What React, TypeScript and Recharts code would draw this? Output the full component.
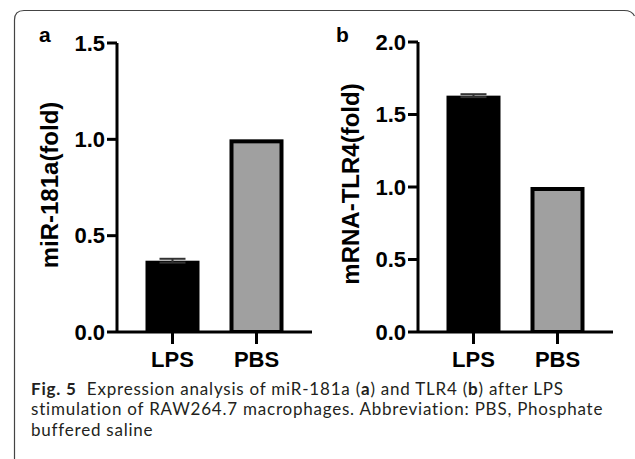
import React from 'react';
import { BarChart, Bar, XAxis, YAxis, ErrorBar } from 'recharts';

const categories = ['LPS', 'PBS'];
const miR181aValues = [0.37, 1.0];
const miR181aErrors: (number | null)[] = [0.01, null];
const tlr4Values = [1.63, 1.0];
const tlr4Errors: (number | null)[] = [0.01, null];
const barColors = ['#000000', '#a0a0a0'];
const ticksA = [0, 0.5, 1.0, 1.5];
const ticksB = [0, 0.5, 1.0, 1.5, 2.0];
const yTitleA = 'miR-181a(fold)';
const yTitleB = 'mRNA-TLR4(fold)';

const dataA = categories.map((c, i) => ({ cat: c, v: miR181aValues[i], err: miR181aErrors[i] }));
const dataB = categories.map((c, i) => ({ cat: c, v: tlr4Values[i], err: tlr4Errors[i] }));

const FONT = '"Liberation Sans", Arial, sans-serif';
const CAPTION_FONT = 'Lato, "Open Sans", sans-serif';

const OutlinedBar = (props: any) => {
  const { x, y, width, height, index } = props;
  if (height == null || width == null) return null;
  const sw = 4;
  return (
    <rect
      x={x + sw / 2}
      y={y + sw / 2}
      width={Math.max(0, width - sw)}
      height={Math.max(0, height - sw / 2)}
      fill={barColors[index]}
      stroke="#000"
      strokeWidth={sw}
    />
  );
};

const YTitle = (props: any) => {
  const { tx, ty, text } = props;
  return (
    <text
      x={tx}
      y={ty}
      transform={`rotate(-90 ${tx} ${ty})`}
      textAnchor="middle"
      fontFamily={FONT}
      fontWeight="bold"
      fontSize={24}
      fill="#000"
    >
      {text}
    </text>
  );
};

const tickStyle = { fill: '#000', fontSize: 22, fontWeight: 'bold', fontFamily: FONT } as any;
const lineStyle = { stroke: '#000', strokeWidth: 3 };

function Panel(props: { data: any[]; ticks: number[]; max: number; title: string; top: number; right: number; yw: number; tx: number; ty: number }) {
  const { data, ticks, max, title, top, right, yw, tx, ty } = props;
  return (
    <BarChart width={320} height={380} data={data} margin={{ top, right, left: 0, bottom: 0 }}>
      <XAxis
        dataKey="cat"
        height={48}
        padding={{ left: 13.5, right: 13.5 }}
        tickSize={12}
        tickMargin={7}
        axisLine={lineStyle}
        tickLine={lineStyle}
        tick={tickStyle}
        interval={0}
      />
      <YAxis
        width={yw}
        domain={[0, max]}
        ticks={ticks}
        allowDataOverflow
        tickFormatter={(v: number) => v.toFixed(1)}
        tickSize={10}
        tickMargin={2}
        axisLine={lineStyle}
        tickLine={lineStyle}
        tick={tickStyle}
        label={<YTitle tx={tx} ty={ty} text={title} />}
      />
      <Bar dataKey="v" barSize={54} isAnimationActive={false} shape={<OutlinedBar />}>
        <ErrorBar dataKey="err" width={13} stroke="#333" strokeWidth={2} isAnimationActive={false} />
      </Bar>
    </BarChart>
  );
}

export default function App() {
  return (
    <div style={{ position: 'absolute', left: 0, top: 0, width: 635, height: 459, background: '#fff', overflow: 'hidden' }}>
      <div style={{ position: 'absolute', left: 0, top: 0 }}>
        <Panel data={dataA} ticks={ticksA} max={1.5} title={yTitleA} top={43} right={8} yw={117} tx={58} ty={185} />
      </div>
      <div style={{ position: 'absolute', left: 300, top: 0 }}>
        <Panel data={dataB} ticks={ticksB} max={2.0} title={yTitleB} top={42} right={7} yw={118} tx={59} ty={184} />
      </div>
      <svg width={635} height={459} style={{ position: 'absolute', left: 0, top: 0, pointerEvents: 'none' }}>
        <path d="M14.5 459 L14.5 20 Q14.5 10.5 24 10.5 L624 10.5 Q632 10.5 634.5 16" fill="none" stroke="#444" strokeWidth={1.2} />
        <text x={39} y={42} fontFamily={FONT} fontWeight="bold" fontSize={21} fill="#000">a</text>
        <text x={336} y={42} fontFamily={FONT} fontWeight="bold" fontSize={21} fill="#000">b</text>
        <g fontFamily={CAPTION_FONT} fontSize={17} fill="#231f20" letterSpacing={0.78}>
          <text x={31} y={394.5}>
            <tspan fontWeight="bold">Fig. 5</tspan>
            <tspan>{'\u00a0\u00a0Expression analysis of miR-181a ('}</tspan>
            <tspan fontWeight="bold">a</tspan>
            <tspan>{') and TLR4 ('}</tspan>
            <tspan fontWeight="bold">b</tspan>
            <tspan>{') after LPS'}</tspan>
          </text>
          <text x={31} y={415}>stimulation of RAW264.7 macrophages. Abbreviation: PBS, Phosphate</text>
          <text x={31} y={435.5}>buffered saline</text>
        </g>
      </svg>
    </div>
  );
}
